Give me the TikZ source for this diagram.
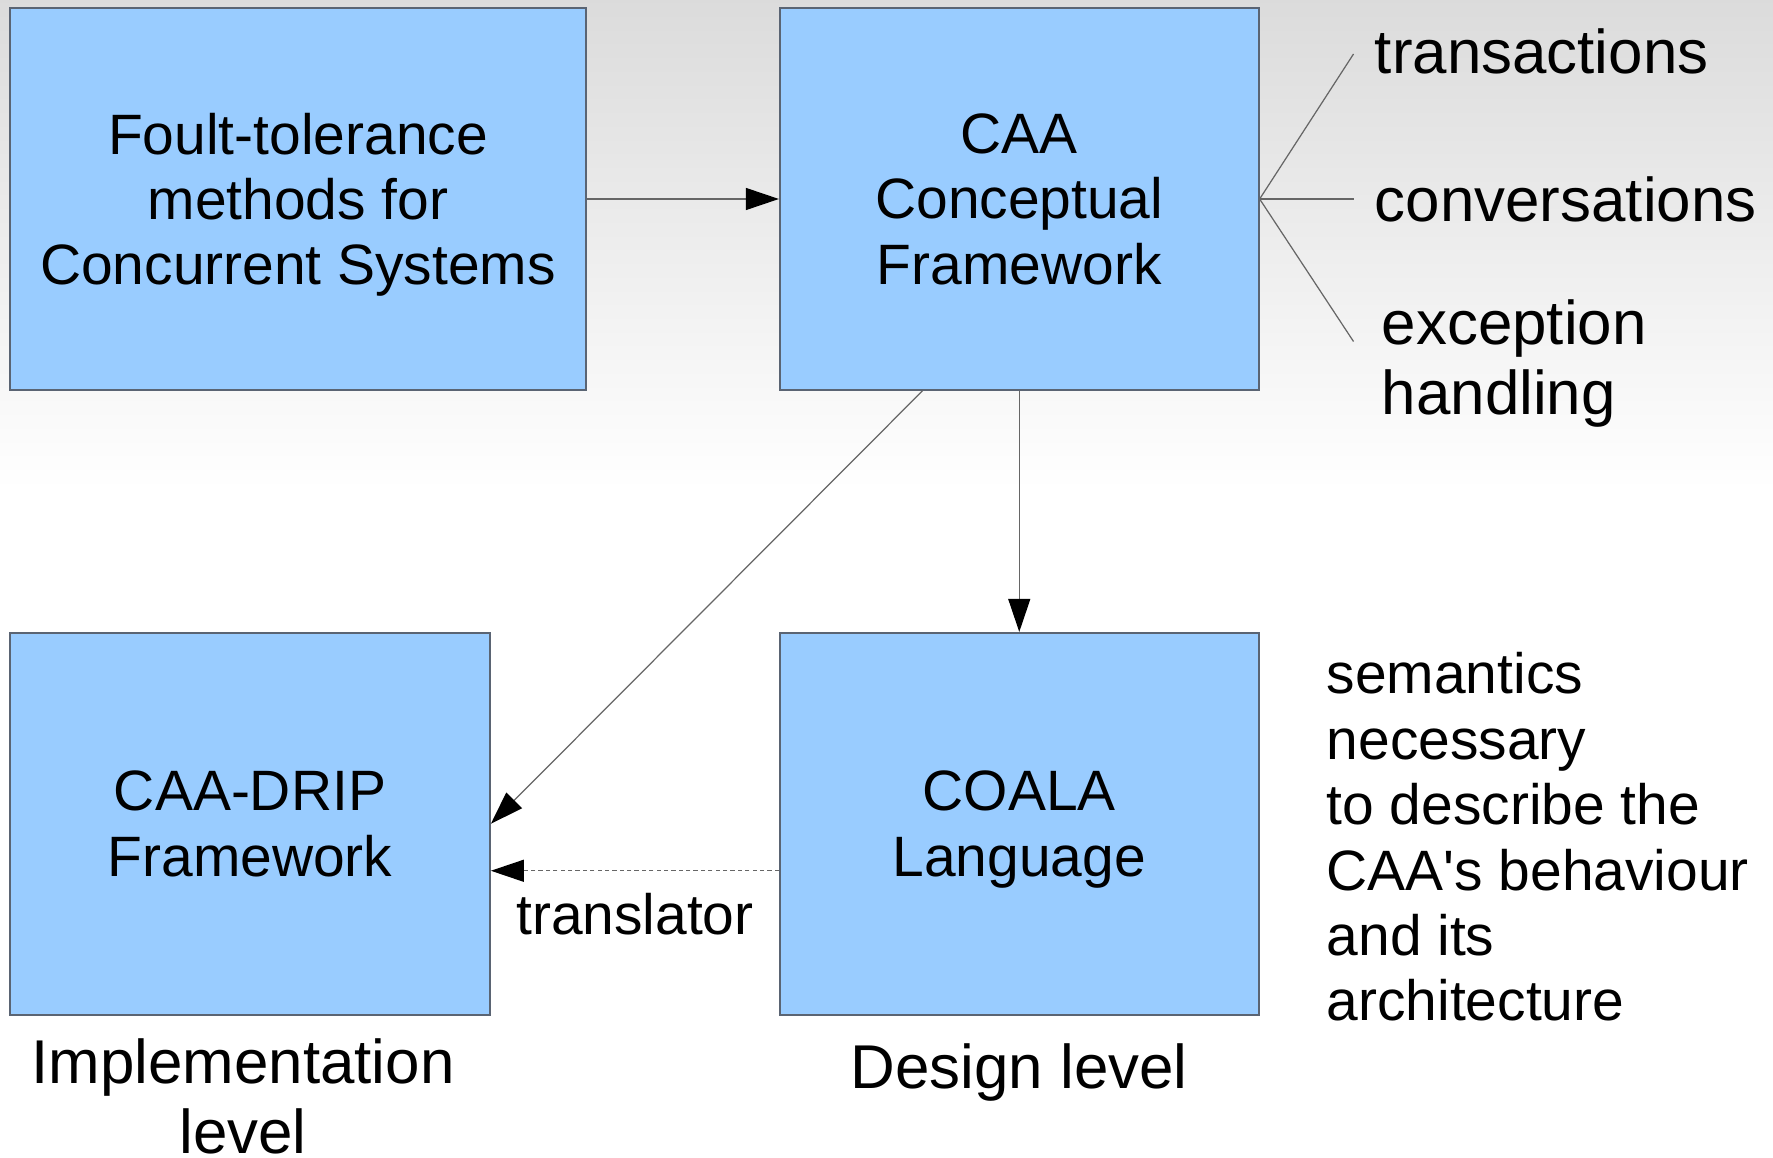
\documentclass[tikz,border=0pt]{standalone}
\usepackage{fontspec}
\setmainfont{Liberation Sans}
\usetikzlibrary{positioning,arrows.meta}
\definecolor{boxblue}{HTML}{99CCFF}
\definecolor{boxline}{HTML}{5A6473}
\tikzset{
  block/.style     = {shape=rectangle, draw=boxline, fill=boxblue,
                      line width=0.5pt, align=center, inner sep=0pt,
                      minimum height=3.82cm, text depth=0pt,
                      font=\fontsize{16.2}{18.6}\selectfont},
  sidenote/.style  = {align=left, font=\fontsize{17.6}{19.9}\selectfont},
  levelnote/.style = {align=center, inner sep=0pt,
                      font=\fontsize{17.6}{19.9}\selectfont},
  plainnote/.style = {align=left, font=\fontsize{16.2}{18.6}\selectfont}
}

\begin{document}
\begin{tikzpicture}
  [
    node distance    = 1.92cm,
    connector/.style = {draw=black!60, line width=0.35pt,
                        -{Triangle[length=3.3mm, width=2.2mm, black]}},
    branch/.style    = {draw=black!60, line width=0.35pt}
  ]
  \fill [white] (0,0) rectangle (17.73,11.57);
  \shade [top color=gray!28, bottom color=white] (0,6.67) rectangle (17.73,11.57);
  \useasboundingbox (0,0) rectangle (17.73,11.57);

  \node [block, minimum width=5.76cm] (methods) at (2.98,9.58)
    {Foult-tolerance\\ methods for\\ Concurrent Systems};
  \node [block, minimum width=4.79cm, right=of methods] (caa)
    {CAA\\ Conceptual\\ Framework};
  \node [block, minimum width=4.80cm, below=2.41cm of methods.south west,
         anchor=north west] (drip) {CAA-DRIP\\ Framework};
  \node [block, minimum width=4.79cm, below=2.41cm of caa] (coala)
    {COALA\\ Language};

  \draw [connector] (methods) -- (caa);
  \draw [connector] (caa) -- (coala);
  \draw [connector] ([xshift=1.435cm]caa.south west) -- (drip.east);
  \draw [connector, dash pattern=on 1.2pt off 0.9pt]
    ([yshift=-0.47cm]coala.west) -- ([yshift=-0.47cm]drip.east)
    node [plainnote, midway, below=2.9pt] (trans) {translator};

  \coordinate (t1) at (13.535,11.03);
  \coordinate (t2) at (13.535,9.58);
  \coordinate (t3) at (13.535,8.155);
  \draw [branch] (caa.east) -- (t1);
  \draw [branch] (caa.east) -- (t2);
  \draw [branch] (caa.east) -- (t3);
  \node [sidenote, right=0.09cm of t1, yshift=0.03cm] (transactions) {transactions};
  \node [sidenote, right=0.09cm of t2] (conversations) {conversations};
  \node [sidenote, right=0.16cm of t3, yshift=-0.22cm] (exceptions)
    {exception\\ handling};

  \node [plainnote, inner sep=0pt, anchor=west] (semantics) at (13.26,3.20)
    {semantics\\ necessary\\ to describe the\\
     CAA\textquotesingle s behaviour\\ and its\\ architecture};

  \node [levelnote, below=0.22cm of drip, xshift=-0.07cm] (impl)
    {Implementation\\ level};
  \node [levelnote, below=0.27cm of coala] (design) {Design level};
\end{tikzpicture}
\end{document}
